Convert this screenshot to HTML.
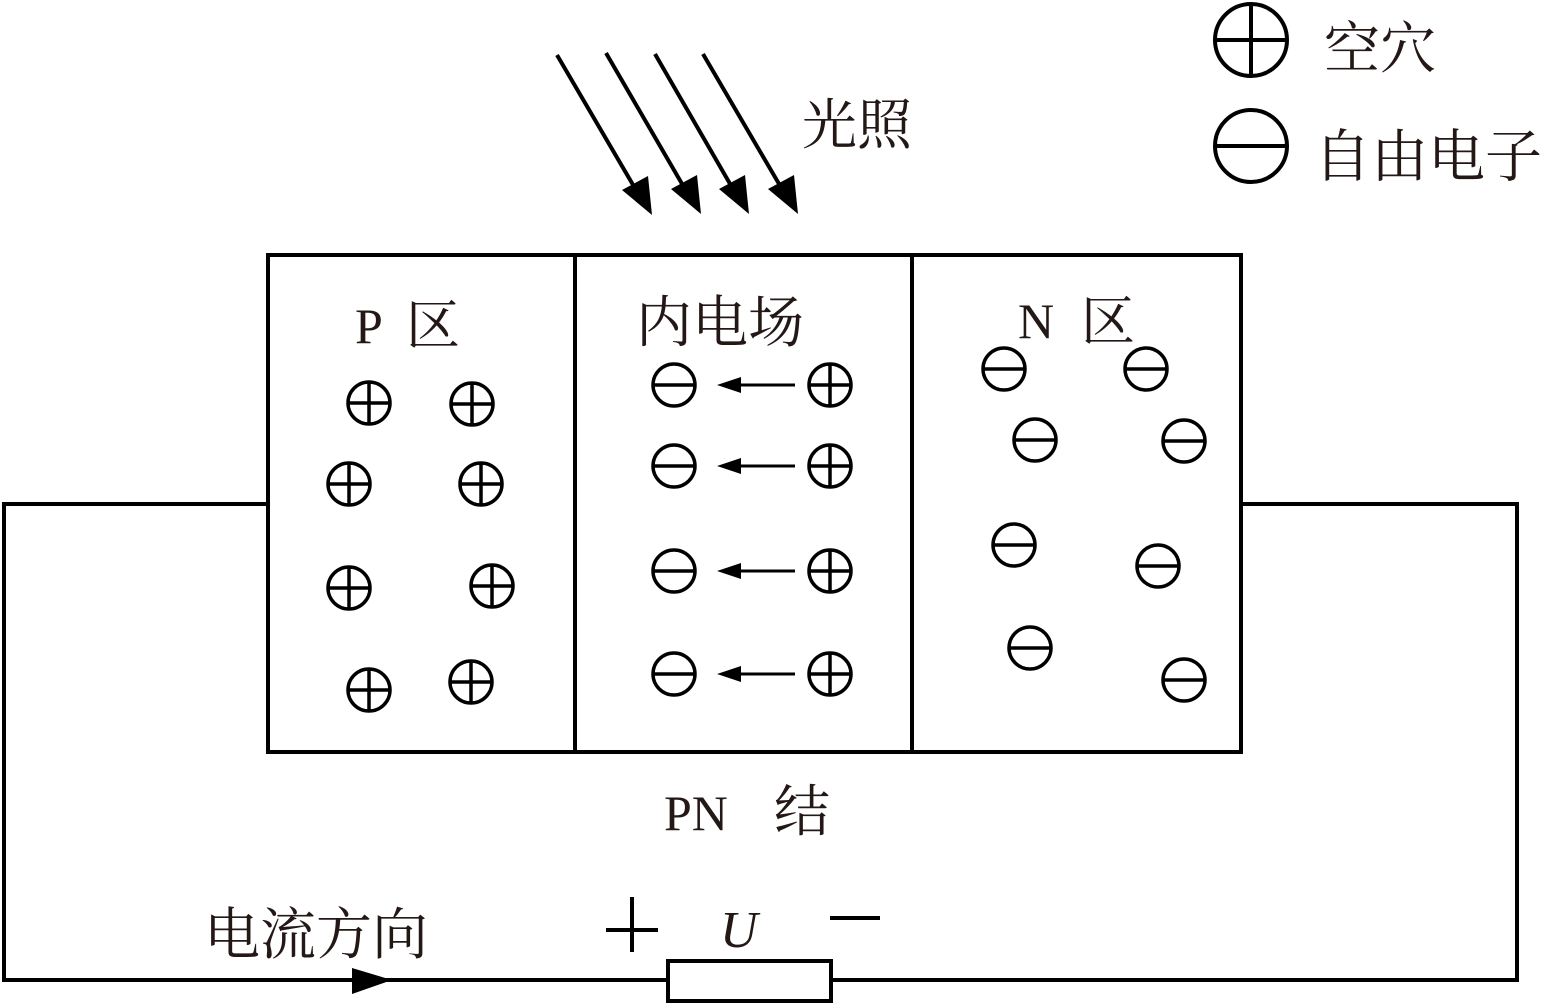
<!DOCTYPE html>
<html><head><meta charset="utf-8"><style>
html,body{margin:0;padding:0;background:#fff}
svg{display:block}
text{font-family:"Liberation Serif","Noto Serif CJK SC",serif;fill:#231815}
</style></head><body>
<svg width="1544" height="1005" viewBox="0 0 1544 1005" xmlns="http://www.w3.org/2000/svg">
<defs>
<g id="pl"><circle r="21" fill="none" stroke="#000" stroke-width="3.5"/><line x1="-21" y1="0" x2="21" y2="0" stroke="#000" stroke-width="3.5"/><line x1="0" y1="-21" x2="0" y2="21" stroke="#000" stroke-width="3.5"/></g>
<g id="mn"><circle r="21" fill="none" stroke="#000" stroke-width="3.5"/><line x1="-21" y1="0" x2="21" y2="0" stroke="#000" stroke-width="3.5"/></g>
</defs>
<g stroke="#000" stroke-width="4" fill="none">
<rect x="268" y="255" width="973" height="497"/>
<line x1="575" y1="255" x2="575" y2="752"/>
<line x1="912" y1="255" x2="912" y2="752"/>
<polyline points="268,504 4,504 4,980 668,980"/>
<polyline points="831,980 1517,980 1517,504 1241,504"/>
<rect x="668" y="961" width="163" height="40"/>
<line x1="557" y1="55" x2="636" y2="190"/>
<line x1="606" y1="53" x2="685" y2="189"/>
<line x1="655" y1="54" x2="733" y2="189"/>
<line x1="703" y1="54" x2="782" y2="189"/>
<line x1="606" y1="930" x2="658" y2="930"/>
<line x1="632" y1="897" x2="632" y2="952"/>
<line x1="830" y1="918" x2="880" y2="918"/>
</g>
<g fill="#000">
<path d="M622,190 L652,215 L648,176 z"/>
<path d="M671,189 L701,214 L697,175 z"/>
<path d="M719,189 L749,214 L745,175 z"/>
<path d="M768,189 L798,214 L794,175 z"/>
<path d="M352,968 L392,980 L352,994 z"/>
</g>
<g stroke="#000" stroke-width="3">
<line x1="795" y1="385" x2="735" y2="385"/><line x1="795" y1="466" x2="735" y2="466"/>
<line x1="795" y1="571" x2="735" y2="571"/><line x1="795" y1="674" x2="735" y2="674"/>
</g>
<g fill="#000">
<path d="M717,385 L741,377 L741,393 z"/><path d="M717,466 L741,458 L741,474 z"/>
<path d="M717,571 L741,563 L741,579 z"/><path d="M717,674 L741,666 L741,682 z"/>
</g>
<use href="#pl" x="369" y="403"/><use href="#pl" x="472" y="404"/>
<use href="#pl" x="349" y="484"/><use href="#pl" x="481" y="484"/>
<use href="#pl" x="349" y="588"/><use href="#pl" x="492" y="586"/>
<use href="#pl" x="369" y="690"/><use href="#pl" x="471" y="682"/>
<use href="#mn" x="674" y="385"/><use href="#mn" x="674" y="466"/>
<use href="#mn" x="674" y="571"/><use href="#mn" x="674" y="674"/>
<use href="#pl" x="830" y="385"/><use href="#pl" x="830" y="466"/>
<use href="#pl" x="830" y="571"/><use href="#pl" x="830" y="674"/>
<use href="#mn" x="1004" y="369"/><use href="#mn" x="1146" y="369"/>
<use href="#mn" x="1035" y="440"/><use href="#mn" x="1184" y="441"/>
<use href="#mn" x="1014" y="545"/><use href="#mn" x="1158" y="566"/>
<use href="#mn" x="1030" y="648"/><use href="#mn" x="1184" y="680"/>
<g stroke="#000" stroke-width="4" fill="none">
<circle cx="1251" cy="40" r="36"/><line x1="1215" y1="40" x2="1287" y2="40"/><line x1="1251" y1="4" x2="1251" y2="76"/>
<circle cx="1251" cy="146" r="36"/><line x1="1215" y1="146" x2="1287" y2="146"/>
</g>
<text x="1324" y="68" font-size="56">空穴</text>
<text x="1314" y="176" font-size="57">自由电子</text>
<text x="802" y="144" font-size="55">光照</text>
<text x="355" y="343" font-size="50">P</text>
<text x="406" y="344" font-size="54">区</text>
<text x="636" y="342" font-size="56">内电场</text>
<text x="1018" y="338" font-size="50">N</text>
<text x="1081" y="340" font-size="54">区</text>
<text x="664" y="830" font-size="50">PN</text>
<text x="774" y="831" font-size="56">结</text>
<text x="204" y="954" font-size="56">电流方向</text>
<text x="720" y="947" font-size="52" font-style="italic" fill="#444">U</text>
</svg>
</body></html>
